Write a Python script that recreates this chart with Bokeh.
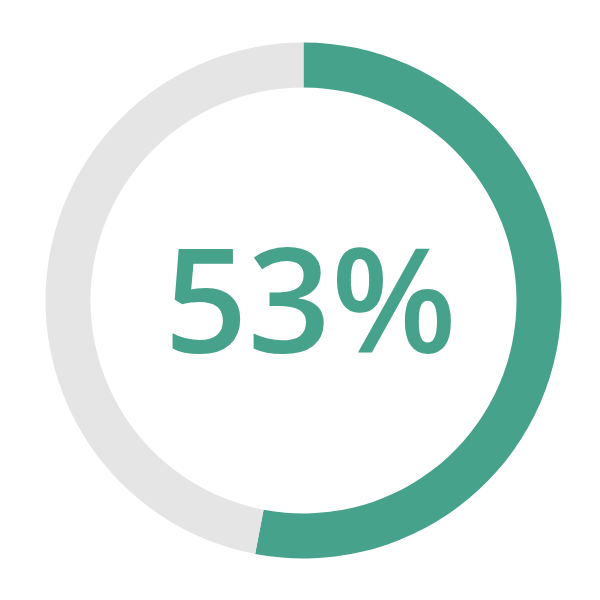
import math
from bokeh.plotting import figure
from bokeh.models import Range1d, ColumnDataSource
from bokeh.core.properties import value
from bokeh.embed import file_html
from bokeh.resources import INLINE

# data
labels = ["Done", "Remaining"]
values = [53, 47]
colors = ["#46A28A", "#E5E5E5"]
center_label = "53%"

W = 584
p = figure(width=W, height=W, output_backend="svg", toolbar_location=None,
           x_range=Range1d(0, W), y_range=Range1d(0, W), min_border=0)
p.axis.visible = False
p.grid.visible = False
p.outline_line_color = None
p.background_fill_color = "white"
p.border_fill_color = "white"

total = sum(values)
starts, ends = [], []
acc = 0.0
for v in values:
    a0 = math.pi / 2 - 2 * math.pi * (acc + v) / total
    a1 = math.pi / 2 - 2 * math.pi * acc / total
    starts.append(a0)
    ends.append(a1)
    acc += v

src = ColumnDataSource(dict(label=labels, value=values, color=colors, start=starts, end=ends))
cx, cy = 303, W - 300
p.annular_wedge(x=cx, y=cy, inner_radius=213, outer_radius=258, start_angle="start", end_angle="end",
                color="color", line_color=None, source=src)

p.text(x=[310], y=[W - 296], text=[center_label],
       text_font=value("'Open Sans SemiBold', 'Open Sans Semibold', 'Open Sans'"),
       text_font_size="146px",
       text_font_style="normal", text_color=colors[0], text_align="center", text_baseline="middle")

open("out.html", "w").write(file_html(p, INLINE))
